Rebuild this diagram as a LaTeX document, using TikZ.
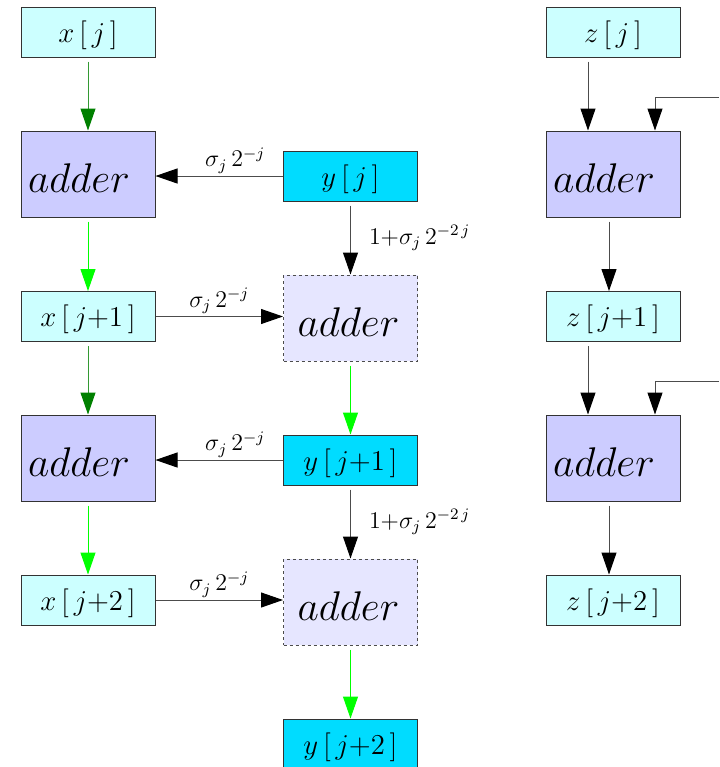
\documentclass[tikz,border=0pt]{standalone}
\usetikzlibrary{arrows.meta,calc}
\definecolor{xboxc}{HTML}{CCFFFF}
\definecolor{addc}{HTML}{CCCCFF}
\definecolor{yboxc}{HTML}{00DCFF}
\definecolor{daddc}{HTML}{E6E6FF}
\definecolor{dgreen}{HTML}{008000}
\definecolor{lgreen}{HTML}{00FF00}
\begin{document}
\begin{tikzpicture}[x=0.5pt,y=-0.5pt,
  box/.style={draw=black!80, line width=0.5pt, minimum width=67pt, minimum height=25pt, inner sep=0pt,
    font=\fontsize{15}{17}\selectfont, text height=14.2pt, text depth=3.75pt},
  xb/.style={box, fill=xboxc},
  yb/.style={box, fill=yboxc},
  addb/.style={draw=black!80, line width=0.5pt, fill=addc, minimum height=43pt, inner xsep=3.5pt, inner ysep=0pt,
    text width=60pt, align=left, font=\fontsize{20}{22}\selectfont, text height=18.9pt, text depth=0pt},
  daddb/.style={addb, draw=black!70, dash pattern=on 1.5pt off 1.5pt, fill=daddc, inner xsep=7pt, text width=53pt},
  tip/.style={-{Triangle[length=11pt,width=7.5pt,#1]}},
  garr/.style={draw=dgreen!80!white, line width=0.5pt, tip={color=dgreen}, shorten <=2pt},
  larr/.style={draw=lgreen, line width=0.5pt, tip={color=lgreen}, shorten <=2pt},
  karr/.style={draw=black!70, line width=0.5pt, tip={color=black}},
  lab/.style={font=\fontsize{11.5}{13}\selectfont, inner sep=1pt, text=black}
]
\useasboundingbox (0,0) rectangle (719,767);

% left column
\node[xb] (xj) at (88,32) {$x\,[\,j\,]$};
\node[addb] (aL1) at (88,174) {$adder$};
\node[xb] (xj1) at (88,316.5) {$x\,[\,j{+}1\,]$};
\node[addb] (aL2) at (88,458) {$adder$};
\node[xb] (xj2) at (88,600) {$x\,[\,j{+}2\,]$};

% middle column
\node[yb] (yj) at (350.5,176) {$y\,[\,j\,]$};
\node[daddb] (aD1) at (350.5,318) {$adder$};
\node[yb] (yj1) at (350.5,460) {$y\,[\,j{+}1\,]$};
\node[daddb] (aD2) at (350.5,602) {$adder$};
\node[yb] (yj2) at (350.5,744) {$y\,[\,j{+}2\,]$};

% right column
\node[xb] (zj) at (613,32) {$z\,[\,j\,]$};
\node[addb] (aR1) at (613,174) {$adder$};
\node[xb] (zj1) at (613,316.5) {$z\,[\,j{+}1\,]$};
\node[addb] (aR2) at (613,458) {$adder$};
\node[xb] (zj2) at (613,600) {$z\,[\,j{+}2\,]$};
\coordinate (inR1) at (719,97);
\coordinate (inR2) at (719,381);

% left connectors
\draw[garr] (xj) -- (aL1);
\draw[larr] (aL1) -- (xj1);
\draw[garr] (xj1) -- (aL2);
\draw[larr] (aL2) -- (xj2);

% horizontal connectors
\draw[karr] (yj) -- node[lab, above, pos=0.375] {$\sigma_j\,2^{-j}$} (yj -| aL1.east);
\draw[karr] (xj1) -- node[lab, above, pos=0.5] {$\sigma_j\,2^{-j}$} (xj1 -| aD1.west);
\draw[karr] (yj1) -- node[lab, above, pos=0.375] {$\sigma_j\,2^{-j}$} (yj1 -| aL2.east);
\draw[karr] (xj2) -- node[lab, above, pos=0.5] {$\sigma_j\,2^{-j}$} (xj2 -| aD2.west);

% middle vertical connectors
\draw[karr, shorten <=2pt] (yj) -- node[lab, right, xshift=8pt] {$1{+}\sigma_j\,2^{-2\,j}$} (aD1);
\draw[larr] (aD1) -- (yj1);
\draw[karr, shorten <=2pt] (yj1) -- node[lab, right, xshift=8pt] {$1{+}\sigma_j\,2^{-2\,j}$} (aD2);
\draw[larr] (aD2) -- (yj2);

% right connectors
\draw[karr, shorten <=2pt] ($(zj.south)+(-12.5pt,0)$) -- ($(aR1.north)+(-12.5pt,0)$);
\draw[karr] (inR1) -| ($(aR1.north)+(21pt,0)$);
\draw[karr, shorten <=2pt] ($(aR1.south)+(-2pt,0)$) -- ($(zj1.north)+(-2pt,0)$);
\draw[karr, shorten <=2pt] ($(zj1.south)+(-12.5pt,0)$) -- ($(aR2.north)+(-12.5pt,0)$);
\draw[karr] (inR2) -| ($(aR2.north)+(21pt,0)$);
\draw[karr, shorten <=2pt] ($(aR2.south)+(-2pt,0)$) -- ($(zj2.north)+(-2pt,0)$);
\end{tikzpicture}
\end{document}
